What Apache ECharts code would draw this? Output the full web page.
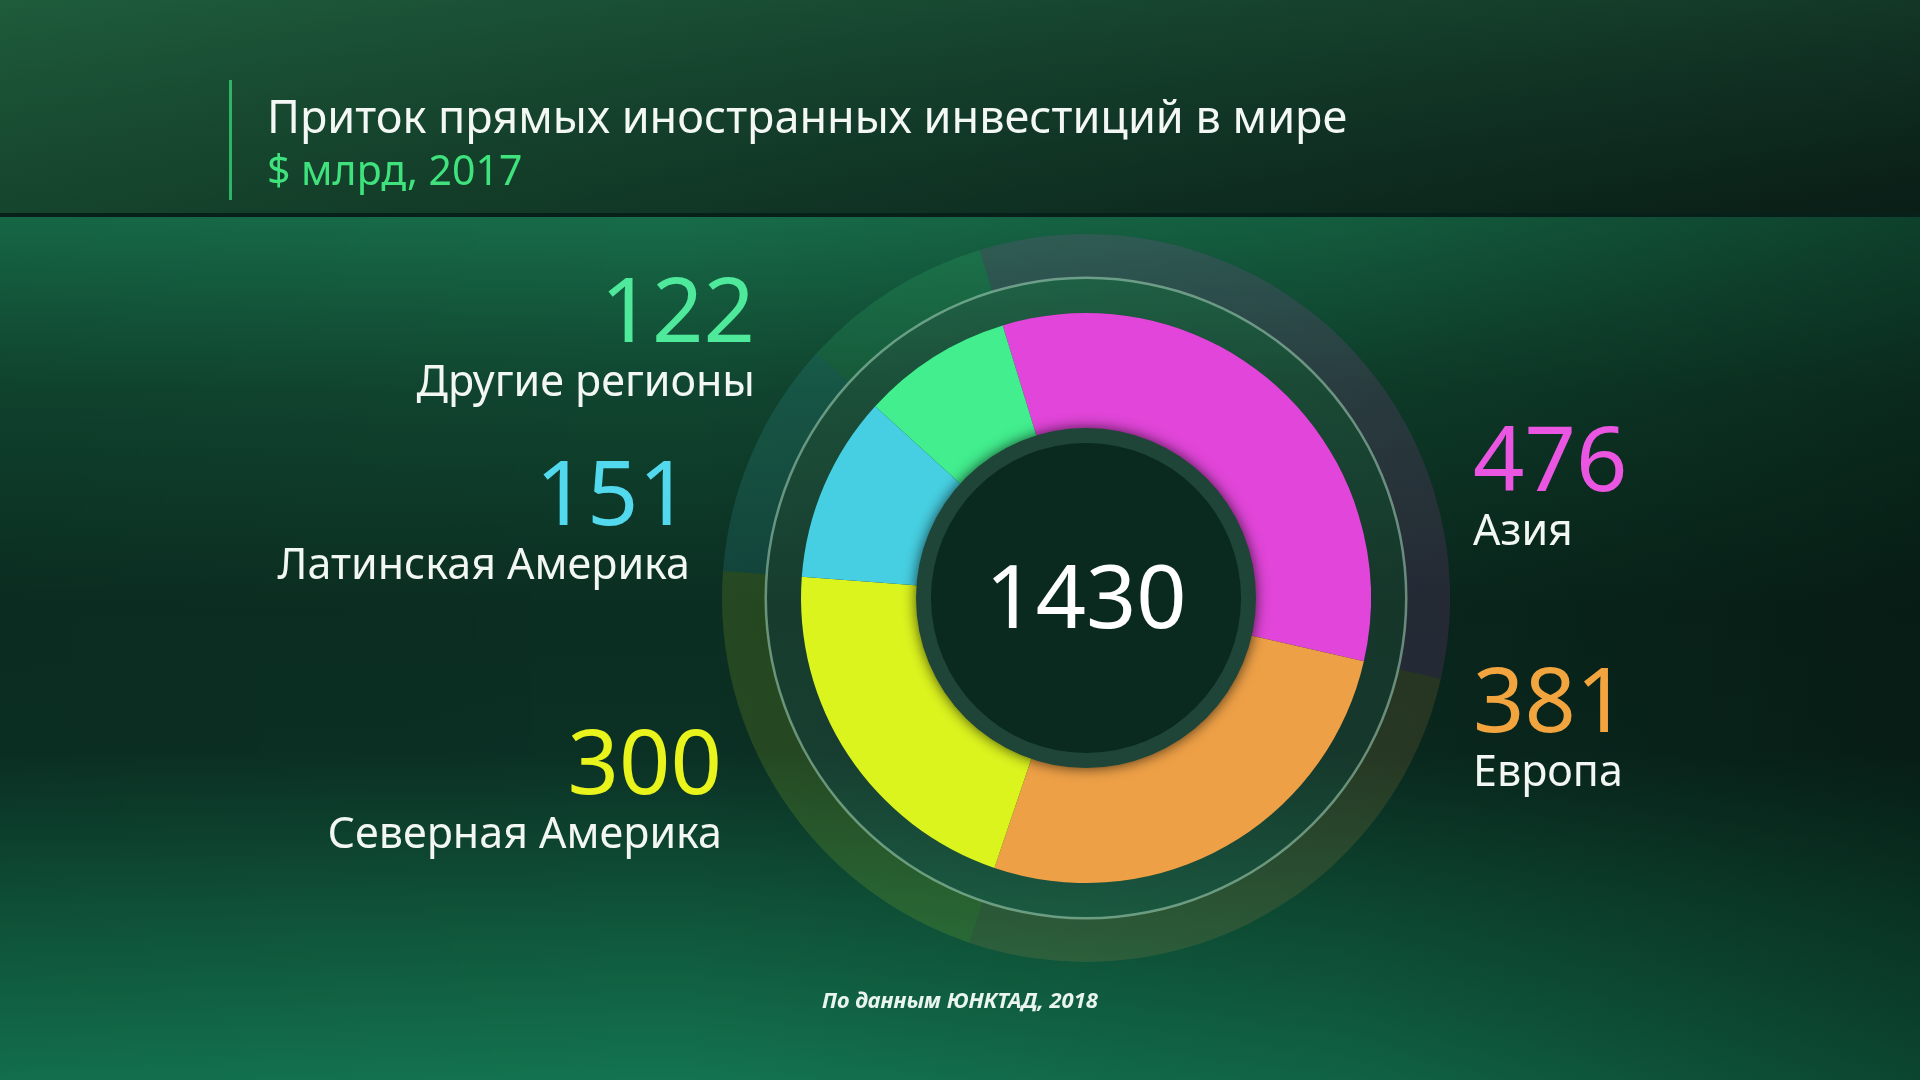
<!DOCTYPE html>
<html>
<head>
<meta charset="utf-8">
<style>
html,body{margin:0;padding:0;width:1920px;height:1080px;overflow:hidden;background:#0b2e22;}
#chart{width:1920px;height:1080px;}
</style>
<script src="https://cdn.jsdelivr.net/npm/echarts@6/dist/echarts.min.js"></script>
</head>
<body>
<div id="chart"></div>
<script>
// ---- data ----
const titleText = 'Приток прямых иностранных инвестиций в мире';
const subtitleText = '$ млрд, 2017';
const sourceText = 'По данным ЮНКТАД, 2018';
const categories = ['Азия', 'Европа', 'Северная Америка', 'Латинская Америка', 'Другие регионы'];
const values = [476, 381, 300, 151, 122];
const sliceColors = ['#e145d9', '#eea046', '#dcf41e', '#46cfe2', '#42ee8e'];
const numberColors = ['#ea56e2', '#f2a43e', '#e9f41c', '#52d9ee', '#4fe99b'];

// ---- layout (positions kept apart from data) ----
const CX = 1086, CY = 598;
const labelAnchors = [
  {x: 1473, y: 423, align: 'left'},
  {x: 1473, y: 664, align: 'left'},
  {x: 722, y: 726, align: 'right'},
  {x: 690, y: 457, align: 'right'},
  {x: 755, y: 274, align: 'right'}
];

const total = values.reduce((a, b) => a + b, 0);
const pieData = categories.map((c, i) => ({name: c, value: values[i]}));

function hexToRgba(hex, a) {
  const n = parseInt(hex.slice(1), 16);
  return 'rgba(' + ((n >> 16) & 255) + ',' + ((n >> 8) & 255) + ',' + (n & 255) + ',' + a + ')';
}

const rich = {
  n: {fontFamily: 'Noto Sans', fontSize: 43, lineHeight: 52, color: '#f2f7f4'}
};
numberColors.forEach((c, i) => {
  rich['v' + i] = {fontFamily: 'Noto Sans', fontSize: 90, lineHeight: 84, color: c};
});

const FONT = 'Noto Sans';
const chart = echarts.init(document.getElementById('chart'), null, {renderer: 'canvas'});

const option = {
  animation: false,
  graphic: [
    {type: 'rect', z: -10, silent: true, shape: {x: 0, y: 0, width: 1920, height: 213},
      style: {fill: new echarts.graphic.LinearGradient(0, 0, 1, 0, [
        {offset: 0, color: '#1b5638'}, {offset: 0.45, color: '#133f2c'}, {offset: 1, color: '#0c251c'}])}},
    {type: 'rect', z: -9, silent: true, shape: {x: 0, y: 0, width: 1920, height: 213},
      style: {fill: new echarts.graphic.LinearGradient(0, 0, 0, 1, [
        {offset: 0, color: 'rgba(40,110,70,0.25)'}, {offset: 1, color: 'rgba(0,0,0,0.2)'}])}},
    {type: 'rect', z: -10, silent: true, shape: {x: 0, y: 213, width: 1920, height: 4},
      style: {fill: '#07201a'}},
    {type: 'rect', z: -10, silent: true, shape: {x: 0, y: 217, width: 1920, height: 863},
      style: {fill: new echarts.graphic.LinearGradient(0, 0, 0, 1, [
        {offset: 0, color: '#176c49'}, {offset: 0.2, color: '#10452f'},
        {offset: 0.45, color: '#0b2e22'}, {offset: 0.62, color: '#0b3024'},
        {offset: 0.8, color: '#0f5339'}, {offset: 1, color: '#137450'}])}},
    {type: 'rect', z: -9, silent: true, shape: {x: 0, y: 217, width: 1920, height: 863},
      style: {fill: new echarts.graphic.LinearGradient(0, 0, 1, 0, [
        {offset: 0, color: 'rgba(0,0,0,0.05)'}, {offset: 0.35, color: 'rgba(0,0,0,0)'},
        {offset: 0.7, color: 'rgba(0,0,0,0.15)'}, {offset: 1, color: 'rgba(0,0,0,0.4)'}])}},
    {type: 'rect', z: -8, silent: true, shape: {x: 229, y: 80, width: 3, height: 120},
      style: {fill: '#2fb364'}},
    {type: 'text', z: 10, silent: true, x: CX, y: CY + 5,
      style: {text: String(total), fontFamily: FONT, fontSize: 88, fill: '#ffffff',
        textAlign: 'center', textVerticalAlign: 'middle'}}
  ],
  title: [
    {left: 262, top: 87, text: titleText, subtext: subtitleText, itemGap: 0,
      textStyle: {fontFamily: FONT, fontSize: 45, fontWeight: 'normal', lineHeight: 56, color: '#f4f8f5'},
      subtextStyle: {fontFamily: FONT, fontSize: 41, lineHeight: 50, color: '#3fe27c'}},
    {left: 'center', top: 986, text: sourceText,
      textStyle: {fontFamily: FONT, fontSize: 22, fontWeight: 'bold', fontStyle: 'italic', color: '#e9f5ee'}}
  ],
  series: [
    {
      type: 'pie', silent: true, center: [CX, CY], radius: [320, 364], startAngle: 107, clockwise: true,
      label: {show: false}, labelLine: {show: false},
      data: pieData.map((d, i) => ({name: d.name, value: d.value, itemStyle: {color: hexToRgba(sliceColors[i], 0.13)}})),
      z: 1
    },
    {
      type: 'pie', silent: true, center: [CX, CY], radius: [285, 320],
      label: {show: false}, labelLine: {show: false},
      data: [{value: 1, itemStyle: {color: 'rgba(140,200,165,0.1)'}}], z: 1
    },
    {
      type: 'pie', silent: true, center: [CX, CY], radius: [319, 321.5],
      label: {show: false}, labelLine: {show: false},
      data: [{value: 1, itemStyle: {color: 'rgba(170,215,190,0.55)'}}], z: 2
    },
    {
      type: 'pie', center: [CX, CY], radius: [168, 285], startAngle: 107, clockwise: true,
      avoidLabelOverlap: false,
      itemStyle: {borderWidth: 0},
      data: pieData.map((d, i) => ({name: d.name, value: d.value, itemStyle: {color: sliceColors[i]}})),
      label: {
        show: true, position: 'outside',
        formatter: p => '{v' + p.dataIndex + '|' + p.value + '}\n{n|' + p.name + '}',
        rich: rich
      },
      labelLine: {show: false},
      labelLayout: p => ({
        x: labelAnchors[p.dataIndex].x, y: labelAnchors[p.dataIndex].y,
        align: labelAnchors[p.dataIndex].align, verticalAlign: 'top', hideOverlap: false
      }),
      z: 3
    },
    {
      type: 'pie', silent: true, center: [CX, CY], radius: [0, 170],
      label: {show: false}, labelLine: {show: false},
      data: [{value: 1, itemStyle: {color: '#1e4537', shadowBlur: 14, shadowColor: 'rgba(0,0,0,0.7)'}}], z: 4
    },
    {
      type: 'pie', silent: true, center: [CX, CY], radius: [0, 155],
      label: {show: false}, labelLine: {show: false},
      data: [{value: 1, itemStyle: {color: '#0a291f'}}], z: 5
    }
  ]
};
chart.setOption(option);
</script>
</body>
</html>
